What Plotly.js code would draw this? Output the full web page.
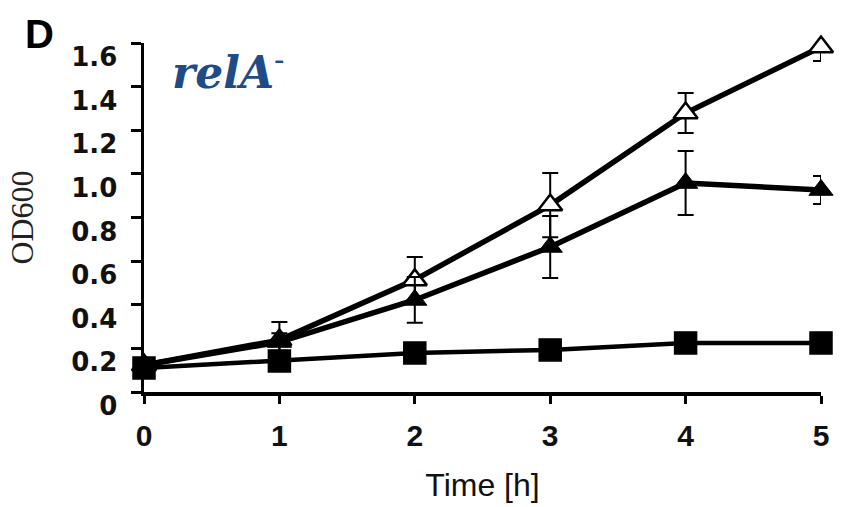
<!DOCTYPE html>
<html>
<head>
<meta charset="utf-8">
<script src="https://cdn.plot.ly/plotly-3.0.1.min.js"></script>
<style>html,body{margin:0;padding:0;background:#fff;}#chart{width:850px;height:507px;}</style>
</head>
<body>
<div id="chart"></div>
<script>
// Time points (h)
const timeH = [0, 1, 2, 3, 4, 5];
// Open triangles
const openTri = [0.124, 0.238, 0.514, 0.857, 1.279, 1.582];
const openTriErr = [0.01, 0.083, 0.105, 0.147, 0.092, 0.064];
// Filled triangles
const fillTri = [0.124, 0.229, 0.422, 0.665, 0.958, 0.926];
const fillTriErr = [0.01, 0.04, 0.105, 0.142, 0.147, 0.064];
// Filled squares
const fillSq = [0.110, 0.142, 0.179, 0.193, 0.225, 0.225];
const fillSqErr = [0.01, 0.01, 0.01, 0.01, 0.01, 0.01];
// Tick labels
const yTickVals = [0, 0.2, 0.4, 0.6, 0.8, 1.0, 1.2, 1.4, 1.6];
const yTickText = ['0', '0.2', '0.4', '0.6', '0.8', '1.0', '1.2', '1.4', '1.6'];
const xTickVals = [0, 1, 2, 3, 4, 5];

function errBar(arr) {
  return {type: 'data', array: arr, visible: true, color: '#000', thickness: 2, width: 8};
}

const traces = [
  {
    x: timeH, y: openTri, type: 'scatter', mode: 'lines+markers', cliponaxis: false,
    line: {color: '#000', width: 5.5},
    marker: {symbol: 'triangle-up', size: 21, color: '#fff', line: {color: '#000', width: 2.5}},
    error_y: errBar(openTriErr), showlegend: false
  },
  {
    x: timeH, y: fillTri, type: 'scatter', mode: 'lines+markers', cliponaxis: false,
    line: {color: '#000', width: 5.5},
    marker: {symbol: 'triangle-up', size: 21, color: '#000', line: {color: '#000', width: 1}},
    error_y: errBar(fillTriErr), showlegend: false
  },
  {
    x: timeH, y: fillSq, type: 'scatter', mode: 'lines+markers', cliponaxis: false,
    line: {color: '#000', width: 4.5},
    marker: {symbol: 'square', size: 22, color: '#000', line: {color: '#000', width: 1.5}},
    error_y: errBar(fillSqErr), showlegend: false
  }
];

const layout = {
  width: 850, height: 507,
  margin: {l: 144, r: 29, t: 43, b: 115, pad: 0},
  paper_bgcolor: '#fff', plot_bgcolor: '#fff',
  showlegend: false,
  xaxis: {
    range: [0, 5], autorange: false, fixedrange: true,
    showline: true, linecolor: '#000', linewidth: 3.5,
    showgrid: false, zeroline: false,
    ticks: 'outside', ticklen: 8, tickwidth: 3, tickcolor: '#000',
    tickvals: xTickVals, ticktext: xTickVals.map(String),
    tickfont: {family: 'Liberation Sans, Arial, sans-serif', size: 30, color: '#111', weight: 'bold'},
    ticklabelstandoff: 6,
    title: {text: 'Time [h]', font: {family: 'Liberation Sans, Arial, sans-serif', size: 32, color: '#111'}, standoff: 24}
  },
  yaxis: {
    range: [0, 1.6], autorange: false, fixedrange: true,
    showline: true, linecolor: '#000', linewidth: 3.5,
    showgrid: false, zeroline: false,
    ticks: 'outside', ticklen: 10, tickwidth: 3, tickcolor: '#000',
    tickvals: yTickVals, ticktext: yTickText,
    tickfont: {family: 'DejaVu Sans, sans-serif', size: 26, color: '#111', weight: 'bold'},
    ticklabelshift: 14,
    ticklabelstandoff: 8,
    title: {text: 'OD600', font: {family: 'Liberation Serif, Times New Roman, serif', size: 32, color: '#222'}, standoff: 29}
  },
  annotations: [
    {text: '<b>D</b>', xref: 'paper', yref: 'paper', x: -0.154, y: 1.026, xanchor: 'center', yanchor: 'middle',
     showarrow: false, font: {family: 'Liberation Sans, Arial, sans-serif', size: 40, color: '#000'}},
    {text: '<b><i>relA</i></b><sup>-</sup>', xref: 'paper', yref: 'paper', x: 0.039, y: 0.925, xanchor: 'left', yanchor: 'middle',
     showarrow: false, font: {family: 'DejaVu Serif, serif', size: 44, color: '#204b87'}}
  ]
};

Plotly.newPlot('chart', traces, layout, {displayModeBar: false, staticPlot: true});
</script>
</body>
</html>
